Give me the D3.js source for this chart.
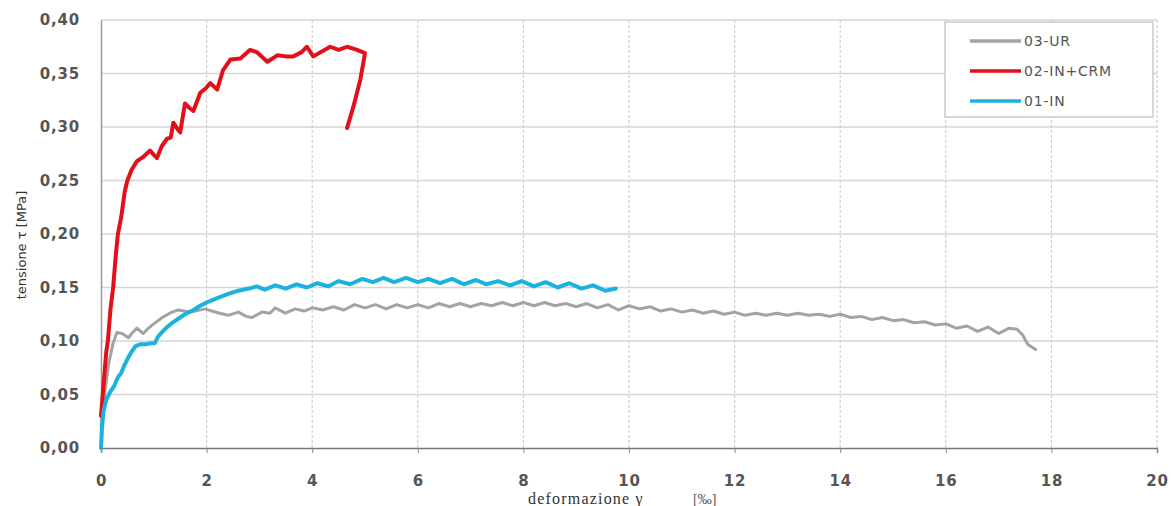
<!DOCTYPE html>
<html><head><meta charset="utf-8">
<script src="https://cdn.jsdelivr.net/npm/d3@7"></script>
<style>
html,body{margin:0;padding:0;background:#fff;}
svg{display:block;}
</style></head>
<body>
<svg id="chart" width="1176" height="506"></svg>
<script>
// ---- data ----
const seriesNames = ["03-UR", "02-IN+CRM", "01-IN"];
const xTicks = [0, 2, 4, 6, 8, 10, 12, 14, 16, 18, 20];
const yTicks = [0, 0.05, 0.10, 0.15, 0.20, 0.25, 0.30, 0.35, 0.40];
const yTickLabels = ["0,00","0,05","0,10","0,15","0,20","0,25","0,30","0,35","0,40"];

const ur03 = [[0,0.02],[0.08,0.055],[0.15,0.08],[0.23,0.098],[0.3,0.108],[0.4,0.107],[0.52,0.103],[0.6,0.108],[0.68,0.112],[0.8,0.107],[0.9,0.112],[1.0,0.116],[1.16,0.122],[1.3,0.126],[1.46,0.129],[1.7,0.127],[1.97,0.130],[2.1,0.128],[2.25,0.126],[2.41,0.124],[2.6,0.127],[2.75,0.123],[2.86,0.122],[3.05,0.127],[3.2,0.126],[3.3,0.131],[3.49,0.126],[3.68,0.130],[3.85,0.128],[4.0,0.131],[4.2,0.129],[4.4,0.132],[4.6,0.129],[4.8,0.134],[5.0,0.131],[5.2,0.134],[5.4,0.130],[5.6,0.134],[5.8,0.131],[6.0,0.134],[6.2,0.131],[6.4,0.135],[6.6,0.132],[6.8,0.135],[7.0,0.132],[7.2,0.135],[7.4,0.133],[7.6,0.136],[7.8,0.133],[8.0,0.136],[8.2,0.133],[8.4,0.136],[8.6,0.133],[8.8,0.135],[9.0,0.132],[9.2,0.135],[9.4,0.131],[9.6,0.134],[9.8,0.129],[10.0,0.133],[10.2,0.130],[10.4,0.132],[10.6,0.128],[10.8,0.130],[11.0,0.127],[11.2,0.129],[11.4,0.126],[11.6,0.128],[11.8,0.125],[12.0,0.127],[12.2,0.124],[12.4,0.126],[12.6,0.124],[12.8,0.126],[13.0,0.124],[13.2,0.126],[13.4,0.124],[13.6,0.125],[13.8,0.123],[14.0,0.125],[14.2,0.122],[14.4,0.123],[14.6,0.120],[14.8,0.122],[15.0,0.119],[15.2,0.120],[15.4,0.117],[15.6,0.118],[15.8,0.115],[16.0,0.116],[16.2,0.112],[16.4,0.114],[16.6,0.109],[16.8,0.113],[17.0,0.107],[17.2,0.112],[17.35,0.111],[17.45,0.106],[17.55,0.097],[17.7,0.092]];

const incrm02 = [[0,0.03],[0.05,0.06],[0.1,0.09],[0.13,0.10],[0.18,0.13],[0.23,0.15],[0.28,0.18],[0.32,0.20],[0.38,0.215],[0.45,0.24],[0.5,0.25],[0.58,0.26],[0.68,0.268],[0.8,0.272],[0.93,0.278],[1.0,0.274],[1.06,0.271],[1.15,0.282],[1.25,0.289],[1.32,0.29],[1.37,0.304],[1.45,0.298],[1.5,0.295],[1.59,0.322],[1.67,0.318],[1.75,0.315],[1.88,0.332],[1.98,0.336],[2.07,0.341],[2.2,0.335],[2.31,0.353],[2.45,0.363],[2.64,0.364],[2.82,0.372],[2.95,0.37],[3.15,0.361],[3.34,0.367],[3.5,0.366],[3.64,0.366],[3.8,0.37],[3.9,0.375],[4.02,0.366],[4.2,0.371],[4.34,0.375],[4.5,0.372],[4.66,0.375],[4.85,0.372],[5.0,0.369],[4.95,0.355],[4.91,0.344],[4.78,0.319],[4.66,0.299]];

const in01 = [[0,0],[0.02,0.02],[0.05,0.035],[0.1,0.045],[0.17,0.052],[0.25,0.058],[0.32,0.066],[0.38,0.07],[0.45,0.078],[0.52,0.085],[0.58,0.09],[0.65,0.095],[0.75,0.097],[0.85,0.097],[0.95,0.098],[1.02,0.098],[1.08,0.104],[1.15,0.108],[1.25,0.113],[1.35,0.117],[1.47,0.121],[1.59,0.125],[1.75,0.129],[1.88,0.133],[2.0,0.136],[2.2,0.140],[2.41,0.144],[2.6,0.147],[2.8,0.149],[2.95,0.151],[3.1,0.148],[3.3,0.152],[3.5,0.149],[3.7,0.153],[3.9,0.150],[4.1,0.154],[4.3,0.151],[4.5,0.156],[4.72,0.153],[4.95,0.158],[5.15,0.155],[5.35,0.159],[5.55,0.155],[5.78,0.159],[6.0,0.155],[6.2,0.158],[6.42,0.154],[6.65,0.158],[6.87,0.153],[7.1,0.157],[7.3,0.153],[7.52,0.156],[7.75,0.152],[7.97,0.156],[8.2,0.151],[8.42,0.155],[8.65,0.150],[8.87,0.154],[9.1,0.149],[9.32,0.152],[9.55,0.147],[9.75,0.149]];

const seriesData = [ur03, incrm02, in01];
const seriesColors = ["#a3a3a3", "#e3101a", "#1cb2e0"];
const seriesWidths = [3, 4, 4];

// ---- layout ----
const svg = d3.select("#chart");
const mLeft = 101, mRight = 1157, mTop = 20, mBottom = 448;
const x = d3.scaleLinear().domain([0, 20]).range([mLeft, mRight]);
const y = d3.scaleLinear().domain([0, 0.40]).range([mBottom, mTop]);

// grid
const g = svg.append("g");
g.selectAll("line.hg").data(yTicks.slice(1)).enter().append("line")
  .attr("x1", mLeft).attr("x2", mRight)
  .attr("y1", d => y(d)).attr("y2", d => y(d))
  .attr("stroke", "#d6d6d6").attr("stroke-width", 1.5);
g.selectAll("line.vg").data(xTicks.slice(1)).enter().append("line")
  .attr("x1", d => x(d)).attr("x2", d => x(d))
  .attr("y1", mTop).attr("y2", mBottom)
  .attr("stroke", "#cfcfcf").attr("stroke-width", 1.2)
  .attr("stroke-dasharray", "3,2");

// axes
const yAxis = d3.axisLeft(y).tickValues(yTicks).tickSize(0)
  .tickFormat((d, i) => yTickLabels[i]);
const ya = svg.append("g").attr("transform", `translate(${mLeft},0)`).call(yAxis);
ya.select(".domain").attr("stroke", "#999").attr("stroke-width", 1.5);
ya.selectAll("text").attr("x", -21).attr("font-family", "DejaVu Sans")
  .attr("font-size", 15).attr("fill", "#555").attr("letter-spacing", 0.8)
  .attr("font-weight", "bold");

const xAxis = d3.axisBottom(x).tickValues(xTicks).tickSize(5).tickFormat(d3.format("d"));
const xa = svg.append("g").attr("transform", `translate(0,${mBottom})`).call(xAxis);
xa.select(".domain").attr("stroke", "#777").attr("stroke-width", 1.5);
xa.selectAll(".tick line").attr("stroke", "#888");
xa.selectAll("text").attr("y", 27).attr("font-family", "DejaVu Sans")
  .attr("font-size", 15).attr("fill", "#555").attr("letter-spacing", 0.8)
  .attr("font-weight", "bold");

// lines
const line = d3.line().x(d => x(d[0])).y(d => y(d[1]));
seriesData.forEach((data, i) => {
  svg.append("path").datum(data)
    .attr("d", line)
    .attr("fill", "none")
    .attr("stroke", seriesColors[i])
    .attr("stroke-width", seriesWidths[i])
    .attr("stroke-linejoin", "round")
    .attr("stroke-linecap", "round");
});

// axis titles
svg.append("text")
  .attr("transform", "translate(26,245) rotate(-90)")
  .attr("text-anchor", "middle")
  .attr("font-family", "DejaVu Sans").attr("font-size", 13)
  .attr("fill", "#333")
  .text("tensione τ [MPa]");

svg.append("text")
  .attr("x", 528).attr("y", 504)
  .attr("font-family", "Liberation Serif").attr("font-size", 16)
  .attr("letter-spacing", 1.2).attr("fill", "#333")
  .text("deformazione γ");
svg.append("text")
  .attr("x", 693).attr("y", 504)
  .attr("font-family", "Liberation Serif").attr("font-size", 14)
  .attr("fill", "#555")
  .text("[‰]");

// legend
const lg = svg.append("g");
lg.append("rect").attr("x", 945).attr("y", 22).attr("width", 208).attr("height", 95)
  .attr("fill", "#fff").attr("stroke", "#bdbdbd").attr("stroke-width", 1.2);
const rowY = [41, 71, 101];
seriesNames.forEach((name, i) => {
  lg.append("line").attr("x1", 970).attr("x2", 1021)
    .attr("y1", rowY[i]).attr("y2", rowY[i])
    .attr("stroke", seriesColors[i]).attr("stroke-width", 3.5);
  lg.append("text").attr("x", 1024).attr("y", rowY[i] + 5)
    .attr("font-family", "DejaVu Sans").attr("font-size", 14)
    .attr("letter-spacing", 0.8).attr("fill", "#555")
    .text(name);
});
</script>
</body></html>
